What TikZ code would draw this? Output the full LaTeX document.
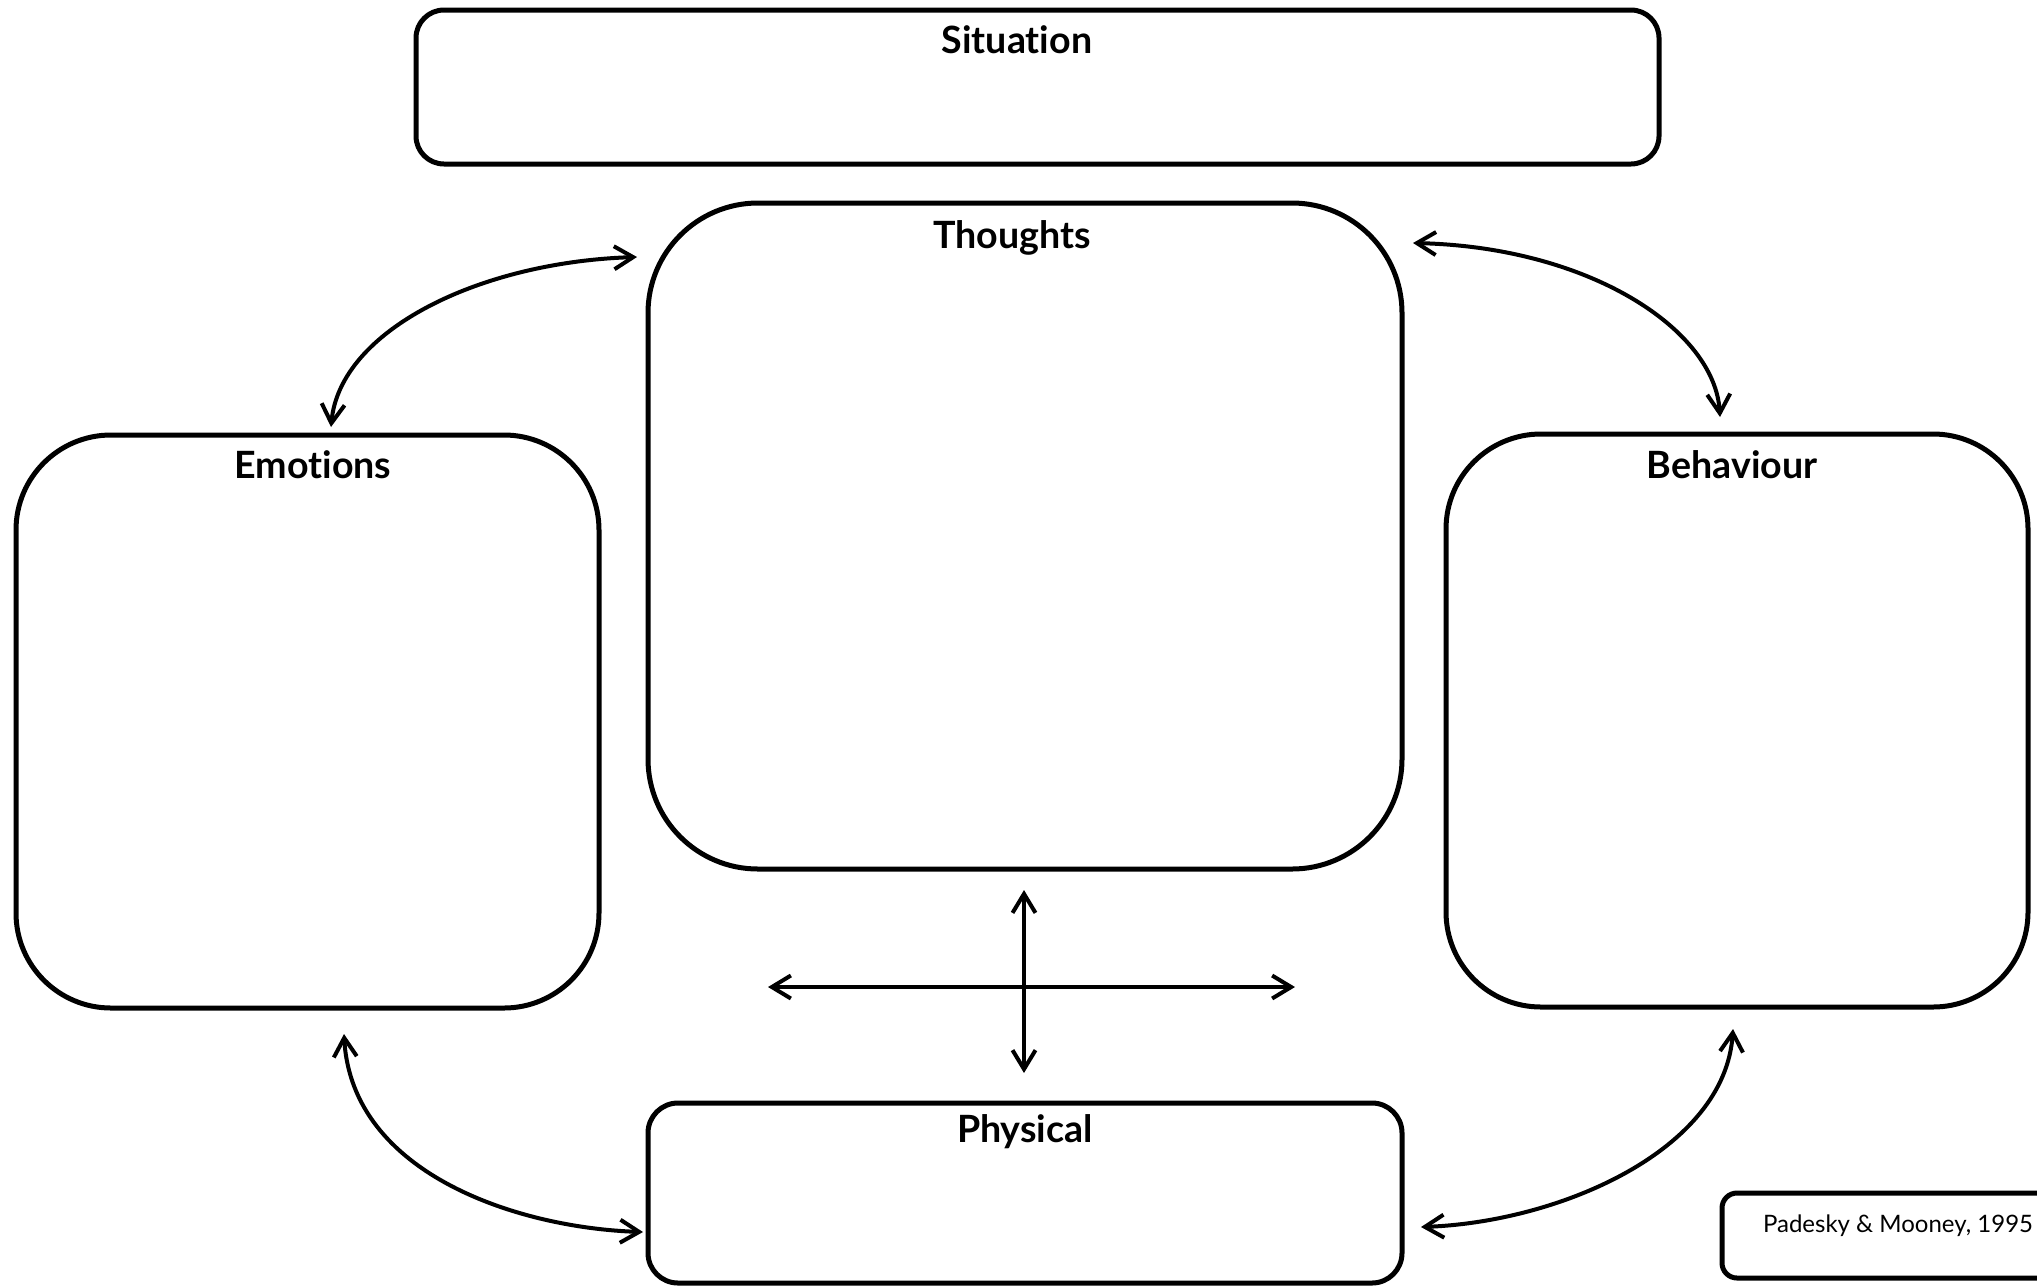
\documentclass[tikz,border=0pt]{standalone}
\usepackage{fontspec}
\setmainfont{Lato}[Ligatures=NoCommon]
\usetikzlibrary{arrows.meta}
\begin{document}
\begin{tikzpicture}[x=0.5pt,y=-0.5pt,
  box/.style={draw=black,line width=2.5pt,fill=white,inner sep=0pt},
  title/.style={anchor=base,font=\fontsize{18.8}{22}\selectfont\bfseries,inner sep=0pt},
  link/.style={line width=2pt,{Straight Barb[length=9.5pt,width=11.5pt]}-{Straight Barb[length=9.5pt,width=11.5pt]}}]
\useasboundingbox (0,0) rectangle (2037,1286);
\fill[white] (0,0) rectangle (2037,1286);
% boxes
\node[box,rounded corners=14pt,minimum width=621.5pt,minimum height=77pt] (sit) at (1037.5,87) {};
\node[box,rounded corners=55pt,minimum width=377pt,minimum height=333pt] (tho) at (1025,536) {};
\node[box,rounded corners=47.5pt,minimum width=291.5pt,minimum height=286.5pt] (emo) at (307.5,721.5) {};
\node[box,rounded corners=47.5pt,minimum width=291pt,minimum height=286.5pt] (beh) at (1737,720.5) {};
\node[box,rounded corners=15pt,minimum width=377pt,minimum height=90pt] (phy) at (1025,1193) {};
\node[box,rounded corners=7.5pt,minimum width=176pt,minimum height=42.5pt] (pad) at (1898,1235.5) {};
% titles
\node[title] (sitt) at (1017,53) {Situation};
\node[title] (thot) at (1012,248) {Thoughts};
\node[title] (emot) at (313,478) {Emotions};
\node[title] (beht) at (1732,478) {Behaviour};
\node[title] (phyt) at (1025,1142) {Physical};
\node[anchor=base,font=\fontsize{12}{14}\selectfont,inner sep=0pt] (padt) at (1898,1232) {Padesky \& Mooney, 1995};
% connector ends
\coordinate (a1) at (637,257);
\coordinate (a2) at (331,427);
\coordinate (b1) at (1413,243);
\coordinate (b2) at (1720,417);
\coordinate (c1) at (344,1034);
\coordinate (c2) at (643,1232);
\coordinate (d1) at (1733,1029);
\coordinate (d2) at (1421,1227);
\coordinate (v1) at (1024,890);
\coordinate (v2) at (1024,1073);
\coordinate (h1) at (768,987);
\coordinate (h2) at (1295,987);
% connectors
\draw[link] (a1) .. controls (480,262) and (340,330) .. (a2);
\draw[link] (b1) .. controls (1590,247) and (1715,330) .. (b2);
\draw[link] (c1) .. controls (352,1175) and (520,1228) .. (c2);
\draw[link] (d1) .. controls (1725,1150) and (1560,1222) .. (d2);
\draw[link] (v1) -- (v2);
\draw[link] (h1) -- (h2);
\end{tikzpicture}
\end{document}
